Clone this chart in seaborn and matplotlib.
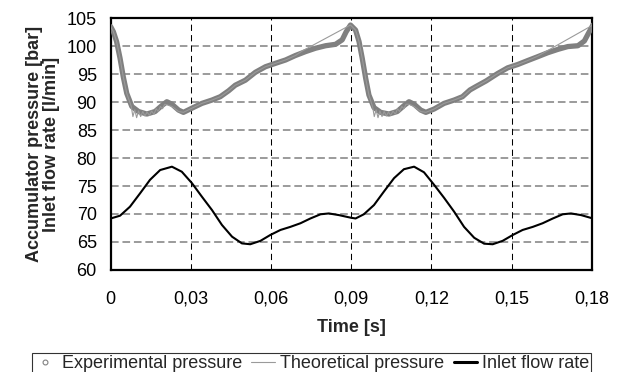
import matplotlib
matplotlib.use("Agg")
import matplotlib.pyplot as plt
import seaborn as sns
import pandas as pd
from matplotlib.lines import Line2D
from matplotlib.ticker import FixedLocator, FuncFormatter

# ---- data ----
exp_t = [0.0, 0.001, 0.0022, 0.0035, 0.0047, 0.006, 0.0079, 0.0104, 0.0135, 0.0166,
         0.0191, 0.021, 0.0229, 0.0254, 0.0272, 0.0304, 0.0341, 0.0379, 0.041, 0.0441,
         0.0466, 0.0504, 0.0541, 0.0579, 0.0616, 0.0654, 0.0691, 0.0729, 0.0766, 0.0804,
         0.0841, 0.0866, 0.0881, 0.0897, 0.0916, 0.0929, 0.0941, 0.0954, 0.0966, 0.0985,
         0.101, 0.1041, 0.1072, 0.1097, 0.1116, 0.1135, 0.116, 0.1179, 0.121, 0.1247,
         0.1285, 0.1316, 0.1344, 0.1366, 0.1404, 0.1448, 0.1485, 0.1523, 0.156, 0.1598,
         0.1635, 0.1673, 0.171, 0.1748, 0.1772, 0.1787, 0.1804]
exp_p = [103.45, 102.55, 100.8, 97.8, 94.5, 91.55, 89.2, 88.3, 87.85, 88.3,
         89.35, 90.05, 89.6, 88.55, 88.15, 88.9, 89.75, 90.35, 90.95, 92.0,
         93.0, 93.9, 95.3, 96.3, 96.9, 97.5, 98.3, 99.0, 99.6, 100.05,
         100.3, 101.1, 102.55, 103.75, 102.85, 100.8, 97.8, 94.2, 91.25, 89.0,
         88.15, 87.85, 88.3, 89.35, 90.05, 89.6, 88.55, 88.15, 88.75, 89.75,
         90.35, 90.95, 92.15, 92.75, 93.75, 95.1, 96.1, 96.7, 97.4, 98.1,
         98.8, 99.4, 99.9, 100.05, 100.9, 102.25, 103.75]

theo_t = [0.0, 0.001, 0.0022, 0.0035, 0.0047, 0.006, 0.0077, 0.0083, 0.009, 0.0097,
          0.0104, 0.0112, 0.012, 0.0128, 0.0136, 0.0145, 0.0153, 0.0162, 0.017, 0.0178,
          0.0186, 0.0194, 0.0202, 0.021, 0.0229, 0.0254, 0.0272, 0.0304, 0.0341, 0.0379,
          0.041, 0.0441, 0.0466, 0.0504, 0.0541, 0.0579, 0.0616, 0.0654, 0.0691, 0.0716,
          0.0897, 0.0916, 0.0929, 0.0941, 0.0954, 0.0966, 0.098, 0.0986, 0.0993, 0.1,
          0.1007, 0.1015, 0.1023, 0.1031, 0.1039, 0.1048, 0.1056, 0.1065, 0.1073, 0.1081,
          0.1089, 0.1097, 0.1105, 0.1116, 0.1135, 0.116, 0.1179, 0.121, 0.1247, 0.1285,
          0.1316, 0.1344, 0.1366, 0.1404, 0.1448, 0.1485, 0.1523, 0.156, 0.1598, 0.1804]
theo_p = [103.45, 102.55, 100.8, 97.8, 94.5, 91.55, 89.2, 87.4, 88.6, 87.2,
          88.4, 87.4, 88.3, 87.5, 88.2, 87.6, 88.4, 87.8, 88.8, 88.3,
          89.2, 88.8, 89.6, 89.5, 89.2, 88.3, 88.15, 88.9, 89.75, 90.35,
          90.95, 92.0, 93.0, 93.9, 95.3, 96.3, 96.9, 97.5, 98.3, 99.1,
          103.75, 102.85, 100.8, 97.8, 94.2, 91.25, 89.1, 87.4, 88.6, 87.2,
          88.4, 87.4, 88.3, 87.5, 88.2, 87.6, 88.4, 87.8, 88.8, 88.3,
          89.2, 88.8, 89.6, 89.6, 89.2, 88.3, 88.15, 88.75, 89.75, 90.35,
          90.95, 92.15, 92.75, 93.75, 95.1, 96.1, 96.7, 97.4, 98.2, 103.75]

flow_t = [0.0, 0.0035, 0.0072, 0.011, 0.0147, 0.0185, 0.0229, 0.0266, 0.0304, 0.0341,
          0.0379, 0.0416, 0.0454, 0.0491, 0.0522, 0.056, 0.0597, 0.0635, 0.0672, 0.071,
          0.0747, 0.0785, 0.0816, 0.0854, 0.0897, 0.0916, 0.0947, 0.0985, 0.1022, 0.106,
          0.1097, 0.1135, 0.1172, 0.121, 0.1247, 0.1285, 0.1322, 0.136, 0.1397, 0.1429,
          0.1466, 0.1504, 0.1541, 0.1579, 0.1616, 0.1654, 0.1691, 0.1722, 0.176, 0.1804]
flow_q = [69.2, 69.7, 71.3, 73.7, 76.1, 77.85, 78.45, 77.55, 75.5, 73.1,
          70.7, 68.05, 65.95, 64.75, 64.6, 65.2, 66.25, 67.15, 67.7, 68.35,
          69.2, 69.95, 70.1, 69.8, 69.35, 69.2, 69.95, 71.6, 74.0, 76.4,
          78.0, 78.45, 77.45, 75.2, 72.9, 70.4, 67.7, 65.75, 64.7, 64.6,
          65.2, 66.25, 67.15, 67.7, 68.35, 69.2, 69.95, 70.1, 69.8, 69.2]

x_ticks = [0, 0.03, 0.06, 0.09, 0.12, 0.15, 0.18]
y_ticks = [60, 65, 70, 75, 80, 85, 90, 95, 100, 105]

series_labels = ["Experimental pressure", "Theoretical pressure", "Inlet flow rate"]

# ---- plot ----
sns.set_style("white")
plt.rcParams["font.family"] = ["Liberation Sans", "DejaVu Sans"]
FS = 13

fig = plt.figure(figsize=(6.23, 3.72), dpi=100)
ax = fig.add_axes([0.1777, 0.2742, 0.7723, 0.6774])

df_exp = pd.DataFrame({"t": exp_t, "p": exp_p})
df_theo = pd.DataFrame({"t": theo_t, "p": theo_p})
df_flow = pd.DataFrame({"t": flow_t, "q": flow_q})

sns.lineplot(data=df_exp, x="t", y="p", ax=ax, color="#808080", lw=3.8,
             estimator=None, solid_capstyle="round", solid_joinstyle="round", zorder=3)
sns.lineplot(data=df_theo, x="t", y="p", ax=ax, color="#9a9a9a", lw=0.8,
             estimator=None, zorder=4)
sns.lineplot(data=df_flow, x="t", y="q", ax=ax, color="black", lw=1.5,
             estimator=None, solid_joinstyle="round", zorder=5)

ax.set_xlim(0, 0.18)
ax.set_ylim(60, 105)
ax.xaxis.set_major_locator(FixedLocator(x_ticks))
ax.yaxis.set_major_locator(FixedLocator(y_ticks))
ax.xaxis.set_major_formatter(FuncFormatter(lambda v, p: "0" if v == 0 else f"{v:.2f}".replace(".", ",")))
ax.yaxis.set_major_formatter(FuncFormatter(lambda v, p: f"{v:.0f}"))

# grids drawn as dashed lines
for yv in y_ticks[1:-1]:
    ax.axhline(yv, color="#808080", lw=1.1, ls=(0, (5, 2.5)), zorder=1)
for xv in x_ticks[1:-1]:
    ax.axvline(xv, color="black", lw=0.75, ls=(0, (6, 4)), zorder=1)

for s in ax.spines.values():
    s.set_visible(True)
    s.set_color("black")
    s.set_linewidth(1.6)

ax.tick_params(axis="both", direction="out", length=4, width=1, colors="black",
               labelsize=FS)
ax.tick_params(axis="x", pad=11)
ax.tick_params(axis="y", pad=6)

ax.set_xlabel("Time [s]", fontweight="bold", fontsize=FS, labelpad=8)
ax.set_ylabel("Accumulator pressure [bar]\nInlet flow rate [l/min]",
              fontweight="bold", fontsize=FS, labelpad=5, linespacing=1.0)

handles = [
    Line2D([], [], ls="none", marker="o", markersize=3.5, markerfacecolor="white",
           markeredgecolor="#808080", markeredgewidth=0.8),
    Line2D([], [], color="#9a9a9a", lw=0.8),
    Line2D([], [], color="black", lw=2.2),
]
leg = fig.legend(handles, series_labels, loc="lower center", bbox_to_anchor=(0.5, -0.005),
                 ncol=3, frameon=True, fancybox=False, fontsize=FS,
                 handlelength=1.3, handletextpad=0.3, columnspacing=0.5,
                 borderpad=0.1, borderaxespad=0.0)
leg.get_frame().set_edgecolor("black")
leg.get_frame().set_linewidth(0.8)

fig.savefig("out.png", dpi=100)
